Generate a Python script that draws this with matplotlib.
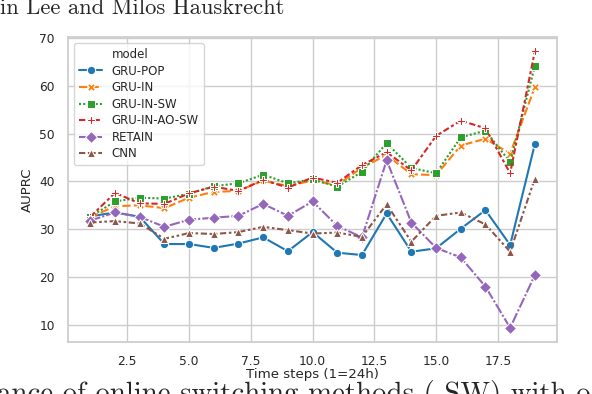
import pandas as pd
import matplotlib.pyplot as plt
import seaborn as sns
from matplotlib.lines import Line2D

steps = list(range(1, 20))

gru_pop      = [32.7, 33.5, 32.6, 26.9, 26.9, 26.1, 27.0, 28.3, 25.4, 29.4, 25.1, 24.6, 33.3, 25.3, 26.0, 30.1, 34.0, 26.7, 47.8]
gru_in       = [32.5, 34.8, 35.0, 34.4, 36.6, 37.8, 38.0, 40.2, 39.0, 40.2, 39.2, 42.9, 45.5, 41.5, 41.3, 47.5, 48.9, 45.8, 59.7]
gru_in_sw    = [32.6, 35.8, 36.6, 36.4, 37.4, 39.0, 39.6, 41.4, 39.6, 40.4, 38.9, 42.0, 48.0, 42.8, 41.7, 49.2, 50.6, 44.0, 64.1]
gru_in_ao_sw = [32.6, 37.6, 35.4, 35.3, 37.5, 38.9, 38.0, 40.3, 38.7, 40.8, 39.7, 43.4, 46.1, 42.3, 49.5, 52.7, 51.1, 41.7, 67.2]
retain       = [31.8, 33.5, 32.6, 30.5, 32.0, 32.4, 32.8, 35.3, 32.8, 35.8, 30.7, 28.3, 44.4, 31.4, 26.1, 24.1, 18.0, 9.4, 20.4]
cnn          = [31.4, 31.7, 31.2, 28.0, 29.2, 29.0, 29.4, 30.5, 29.8, 29.1, 29.3, 28.4, 35.2, 27.4, 32.8, 33.5, 31.0, 25.3, 40.6]

models = ['GRU-POP', 'GRU-IN', 'GRU-IN-SW', 'GRU-IN-AO-SW', 'RETAIN', 'CNN']
series = [gru_pop, gru_in, gru_in_sw, gru_in_ao_sw, retain, cnn]

rows = []
for name, vals in zip(models, series):
    for t, v in zip(steps, vals):
        rows.append({'step': t, 'AUPRC': v, 'model': name})
df = pd.DataFrame(rows)

sns.set_theme(style='whitegrid', font_scale=0.8)

fig = plt.figure(figsize=(5.92, 3.94), dpi=100)
ax = fig.add_axes([0.115, 0.133, 0.826, 0.772])

sns.lineplot(data=df, x='step', y='AUPRC', hue='model', style='model',
             palette='tab10', markers=['o', 'X', 's', 'P', 'D', '^'],
             dashes=True, markersize=6, linewidth=1.5, ax=ax)

ax.set_xlabel('Time steps (1=24h)', labelpad=0.5)
ax.set_ylabel('AUPRC')
ax.set_xticks([2.5, 5.0, 7.5, 10.0, 12.5, 15.0, 17.5])
ax.set_yticks([10, 20, 30, 40, 50, 60, 70])

# old-style seaborn legend: "model" as a blank entry
handles, labels = ax.get_legend_handles_labels()
blank = Line2D([], [], linestyle='none')
ax.legend(handles=[blank] + handles, labels=['model'] + labels,
          loc='upper left', fontsize=8.5, labelspacing=0.3)

# surrounding page text (cropped from the paper)
fig.text(0.0, 1 - 14 / 394, 'in Lee and Milos Hauskrecht',
         fontfamily='cmr10', fontsize=16.3, va='baseline', ha='left')
fig.text(-0.005, 1 - 402 / 394, 'ance of online switching methods (-SW) with o',
         fontfamily='cmr10', fontsize=20.8, va='baseline', ha='left')

fig.savefig('out.png', dpi=100)
